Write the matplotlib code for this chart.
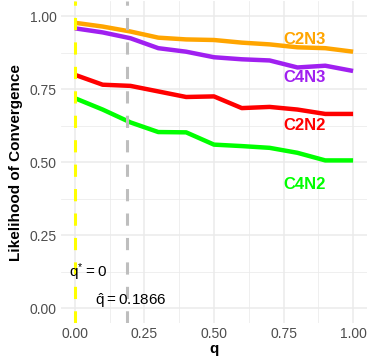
import matplotlib
matplotlib.use("Agg")
import matplotlib.pyplot as plt

plt.rcParams['font.family'] = ['Liberation Sans', 'DejaVu Sans']

q = [0.0, 0.1, 0.2, 0.3, 0.4, 0.5, 0.6, 0.7, 0.8, 0.9, 1.0]
c2n3 = [0.977, 0.964, 0.947, 0.926, 0.920, 0.918, 0.909, 0.903, 0.893, 0.890, 0.878]
c4n3 = [0.958, 0.944, 0.924, 0.890, 0.878, 0.859, 0.852, 0.848, 0.824, 0.830, 0.812]
c2n2 = [0.799, 0.765, 0.761, 0.742, 0.723, 0.725, 0.685, 0.689, 0.680, 0.665, 0.665]
c4n2 = [0.719, 0.680, 0.636, 0.603, 0.602, 0.560, 0.555, 0.549, 0.532, 0.506, 0.506]

series = [("C2N3", c2n3, "#FFA500", 0.921),
          ("C4N3", c4n3, "#A020F0", 0.790),
          ("C2N2", c2n2, "#FF0000", 0.624),
          ("C4N2", c4n2, "#00FF00", 0.424)]

q_star = 0.0
q_hat = 0.1866

fig = plt.figure(figsize=(3.67, 3.56), dpi=100)
ax = fig.add_axes([0.166, 0.093, 0.834, 0.903])

ax.set_xlim(-0.05, 1.05)
ax.set_ylim(-0.05, 1.05)
ax.set_xticks([0, 0.25, 0.5, 0.75, 1.0])
ax.set_yticks([0, 0.25, 0.5, 0.75, 1.0])
ax.set_xticks([0.125, 0.375, 0.625, 0.875], minor=True)
ax.set_yticks([0.125, 0.375, 0.625, 0.875], minor=True)
ax.set_xticklabels(["0.00", "0.25", "0.50", "0.75", "1.00"])
ax.set_yticklabels(["0.00", "0.25", "0.50", "0.75", "1.00"])
ax.grid(which='major', color='#EBEBEB', linewidth=1.1)
ax.grid(which='minor', color='#EBEBEB', linewidth=0.55)
ax.set_axisbelow(True)
ax.tick_params(which='both', length=0, labelsize=10, labelcolor='#4D4D4D', pad=3)
for s in ax.spines.values():
    s.set_visible(False)

for name, vals, col, ly in series:
    ax.plot(q, vals, color=col, linewidth=3.2, solid_capstyle='butt')
    ax.text(0.825, ly, name, color=col, fontsize=12, fontweight='bold',
            ha='center', va='center')

ax.axvline(q_star, color='#FFFF00', linewidth=2.2, linestyle=(0, (4, 4)))
ax.axvline(q_hat, color='#BEBEBE', linewidth=2.2, linestyle=(0, (4, 4)))

ax.text(0.048, 0.125, r"$\mathregular{q^{*} = 0}$", fontsize=11, ha='center', va='center')
ax.text(0.2, 0.026, r"$\mathregular{\hat{q} = 0.1866}$", fontsize=11, ha='center', va='center')

ax.set_xlabel("q", fontsize=11, fontweight='bold', labelpad=1)
ax.set_ylabel("Likelihood of Convergence", fontsize=11, fontweight='bold', labelpad=5)

fig.savefig("out.png", dpi=100)
